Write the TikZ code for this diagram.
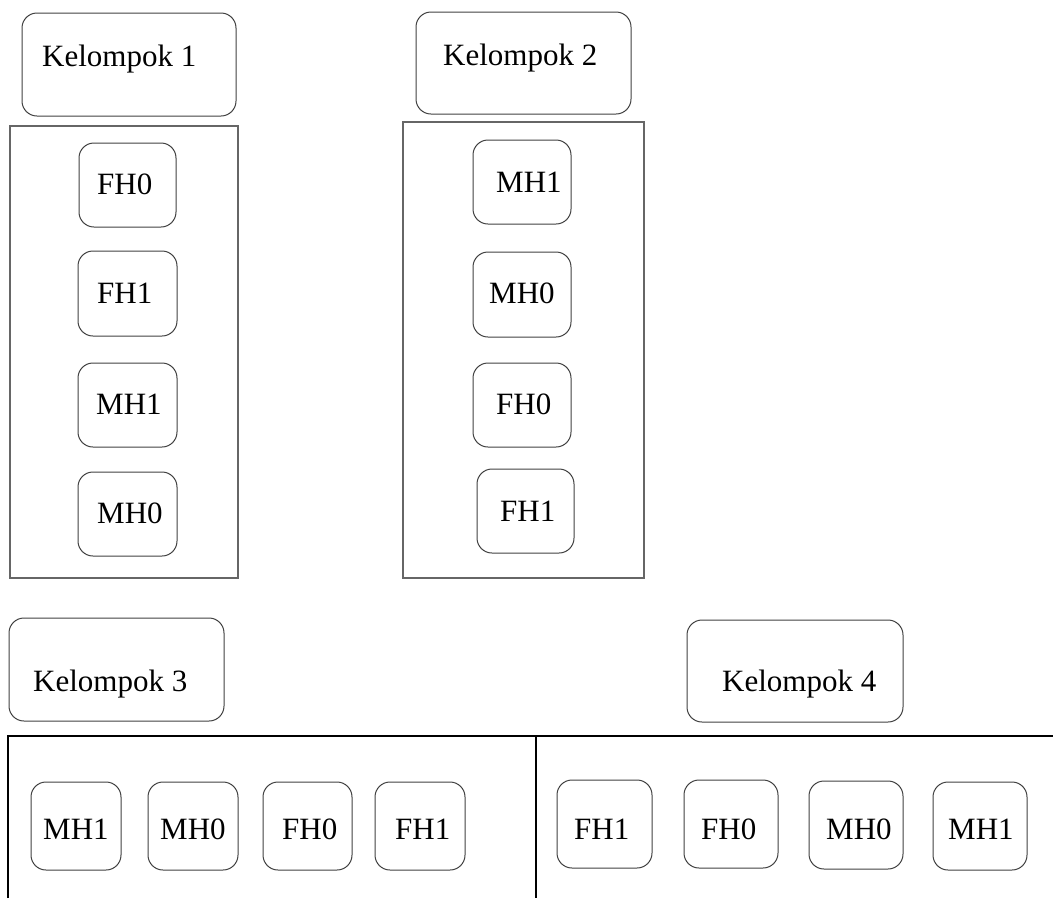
\documentclass[tikz,border=0pt]{standalone}
\usepackage{fontspec}
\setmainfont{Liberation Serif}
\usetikzlibrary{fit}
\tikzset{
  rbox/.style={draw=black!75, line width=1pt, rounded corners=15pt, inner sep=0pt},
  frame/.style={draw=black!60, line width=1.3pt, inner sep=0pt},
  lbl/.style={inner sep=0pt, anchor=base west, font=\fontsize{31pt}{37pt}\selectfont},
  divider/.style={draw=black, line width=2.2pt},
}
% name, x1, y1, x2, y2, text x, baseline, text
\newcommand\mybox[8]{%
  \node[rbox, fit={(#2,#3) (#4,#5)}] (#1) {};
  \node[lbl] (#1t) at (#6,#7) {#8};
}
\begin{document}
\begin{tikzpicture}[x=1pt,y=-1pt]
\useasboundingbox (0,0) rectangle (1053,898);
% group 1
\mybox{k1}{22}{13}{236}{116}{42}{66}{Kelompok 1}
\node[frame, fit={(10,126) (238,578)}] (g1) {};
\mybox{a1}{79}{143}{176}{227}{97}{194}{FH0}
\mybox{a2}{78}{251}{177}{336}{97}{303}{FH1}
\mybox{a3}{78}{363}{177}{447}{96}{414}{MH1}
\mybox{a4}{78}{472}{177}{556}{97}{523}{MH0}
% group 2
\mybox{k2}{416}{12}{631}{114}{443}{65}{Kelompok 2}
\node[frame, fit={(403,122) (644,578)}] (g2) {};
\mybox{b1}{473}{140}{571}{224}{496}{192}{MH1}
\mybox{b2}{473}{252}{571}{337}{489}{303}{MH0}
\mybox{b3}{473}{363}{571}{447}{496}{414}{FH0}
\mybox{b4}{477}{469}{574}{553}{500}{521}{FH1}
% group 3 and 4 labels
\mybox{k3}{9}{618}{224}{721}{33}{691}{Kelompok 3}
\mybox{k4}{687}{620}{903}{722}{722}{691}{Kelompok 4}
% bottom dividers
\coordinate (hl) at (8,736);
\coordinate (hr) at (1053,736);
\coordinate (lb) at (8,898);
\coordinate (mt) at (536,736);
\coordinate (mb) at (536,898);
\draw[divider] (lb) -- (hl) -- (hr);
\draw[divider] (mt) -- (mb);
% group 3
\mybox{c1}{31}{782}{121}{870}{43}{839}{MH1}
\mybox{c2}{148}{782}{238}{870}{160}{839}{MH0}
\mybox{c3}{263}{782}{352}{870}{282}{839}{FH0}
\mybox{c4}{375}{782}{465}{870}{395}{839}{FH1}
% group 4
\mybox{d1}{557}{780}{652}{868}{574}{839}{FH1}
\mybox{d2}{684}{780}{778}{868}{701}{839}{FH0}
\mybox{d3}{809}{781}{903}{869}{826}{839}{MH0}
\mybox{d4}{933}{782}{1027}{870}{948}{839}{MH1}
\end{tikzpicture}
\end{document}
